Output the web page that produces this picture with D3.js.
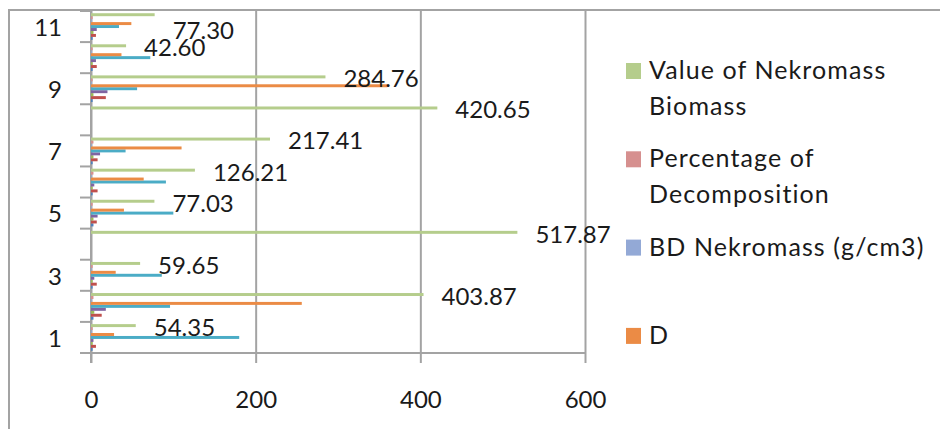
<!DOCTYPE html>
<html>
<head>
<meta charset="utf-8">
<script src="https://cdn.jsdelivr.net/npm/d3@7"></script>
<style>
  body { margin: 0; background: #fff; }
  text { font-family: Lato, "Open Sans", sans-serif; fill: #1a1a1a; }
</style>
</head>
<body>
<div id="chart"></div>
<script>
//categories, bottom to top
var categories = [1, 2, 3, 4, 5, 6, 7, 8, 9, 10, 11];

//series in plotting order (series 1 sits at the bottom of each group)
var seriesNames = ["Series 1", "Series 2", "Series 3", "Series 4", "Series 5",
    "D", "BD Nekromass (g/cm3)", "Percentage of Decomposition", "Value of Nekromass Biomass"];
var seriesColors = ["#4F81BD", "#C0504D", "#9BBB59", "#8064A2", "#4BACC6",
    "#EB8B45", "#93A9D6", "#D6908F", "#B5CD8C"];

var series1 = [2, 3, 2, 0, 3, 2, 2, 0, 2, 2, 2];
var series2 = [6, 13, 7, 0, 7, 8, 8, 0, 18, 7, 6];
var series3 = [2, 4, 2, 0, 3, 2, 3, 0, 3, 2, 3];
var series4 = [3, 18, 4, 0, 8, 4, 11, 0, 20, 6, 7];
var series5 = [180, 96, 86, 0, 100, 91, 42, 0, 56, 72, 34];
var dValues = [28, 256, 30, 0, 40, 64, 110, 0, 360, 37, 49];
var bdNekromass = [1, 1, 1, 0, 1, 1, 1, 0, 1, 1, 1];
var percentDecomp = [2, 3, 2, 0, 2, 3, 3, 0, 2, 2, 2];
var valueNekromass = [54.35, 403.87, 59.65, 517.87, 77.03, 126.21, 217.41, 420.65, 284.76, 42.60, 77.30];

var seriesValues = [series1, series2, series3, series4, series5, dValues, bdNekromass, percentDecomp, valueNekromass];

//axis ticks
var xTicks = [0, 200, 400, 600];

//the legend only has room for the last four series
var legendSeries = [8, 7, 6, 5];

var width = 940, height = 429;
var plot = {left: 91, right: 585, top: 11, bottom: 353};
var gridColor = "#A3A3A3";

var svg = d3.select("#chart").append("svg")
    .attr("width", width)
    .attr("height", height);

//chart border (left and top edges are in view)
svg.append("path")
    .attr("d", "M9," + (height + 5) + "V10H" + (width + 5))
    .attr("fill", "none")
    .attr("stroke", gridColor)
    .attr("stroke-width", 2);

var x = d3.scaleLinear().domain([0, 600]).range([plot.left, plot.right]);

var y = d3.scaleBand()
    .domain(categories.slice().reverse())
    .range([plot.top, plot.bottom]);

//inner band, Excel gap width 150%
var inner = d3.scaleBand()
    .domain(d3.range(seriesNames.length).reverse())
    .range([0, y.bandwidth()])
    .paddingOuter(0.75);

//vertical gridlines + x axis
svg.append("g")
    .attr("transform", "translate(0," + plot.bottom + ")")
    .call(d3.axisBottom(x).tickValues(xTicks).tickSizeInner(-(plot.bottom - plot.top)).tickSizeOuter(0).tickFormat(""))
    .call(function(g) {
        g.select(".domain").remove();
        g.selectAll(".tick line").attr("stroke", gridColor).attr("stroke-width", 2);
    });

svg.append("g")
    .attr("transform", "translate(0," + plot.bottom + ")")
    .call(d3.axisBottom(x).tickValues(xTicks).tickSize(10).tickPadding(28).tickFormat(d3.format("d")))
    .call(function(g) {
        g.select(".domain").attr("d", "M" + (plot.left - 11) + ",0H" + plot.right)
            .attr("stroke", gridColor).attr("stroke-width", 2);
        g.selectAll(".tick line").attr("stroke", gridColor).attr("stroke-width", 2);
        g.selectAll(".tick text")
            .style("font-family", "Lato, 'Open Sans', sans-serif")
            .style("font-size", "24px")
            .attr("fill", "#1a1a1a");
    });

//category axis: ticks between categories, labels on odd ones
var yAxis = svg.append("g");
yAxis.append("line")
    .attr("x1", plot.left).attr("x2", plot.left)
    .attr("y1", plot.top).attr("y2", plot.bottom + 10)
    .attr("stroke", gridColor).attr("stroke-width", 2);

yAxis.selectAll(".ytick")
    .data(categories)
    .enter().append("line")
    .attr("class", "ytick")
    .attr("x1", plot.left - 11).attr("x2", plot.left)
    .attr("y1", function(d) { return y(d); })
    .attr("y2", function(d) { return y(d); })
    .attr("stroke", gridColor).attr("stroke-width", 2);

yAxis.selectAll(".ylabel")
    .data(categories.filter(function(d) { return d % 2 === 1; }))
    .enter().append("text")
    .attr("class", "ylabel")
    .attr("x", 62)
    .attr("y", function(d) { return y(d) + y.bandwidth() / 2 + 1; })
    .attr("dy", "0.35em")
    .attr("text-anchor", "end")
    .style("font-size", "24px")
    .text(function(d) { return d; });

//bars
var groups = svg.append("g").selectAll(".series")
    .data(seriesValues)
    .enter().append("g")
    .attr("class", "series")
    .attr("fill", function(d, i) { return seriesColors[i]; });

groups.each(function(vals, si) {
    d3.select(this).selectAll("rect")
        .data(vals)
        .enter().append("rect")
        .attr("x", x(0))
        .attr("y", function(v, ci) { return y(categories[ci]) + inner(si); })
        .attr("height", inner.bandwidth())
        .attr("width", function(v) { return x(v) - x(0); });
});

//data labels for Value of Nekromass Biomass
var labelSeries = seriesValues.length - 1;
svg.append("g").selectAll("text")
    .data(valueNekromass)
    .enter().append("text")
    .attr("x", function(v) { return x(v) + 18; })
    .attr("y", function(v, ci) {
        var yc = y(categories[ci]) + inner(labelSeries) + inner.bandwidth() / 2 + 2;
        return Math.max(yc, plot.top + 20);
    })
    .attr("dy", "0.35em")
    .style("font-size", "24px")
    .text(function(v) { return v.toFixed(2); });

//legend
var legendLines = {
    8: ["Value of Nekromass", "Biomass"],
    7: ["Percentage of", "Decomposition"],
    6: ["BD Nekromass (g/cm3)"],
    5: ["D"]
};
var legend = svg.append("g").selectAll(".legend")
    .data(legendSeries)
    .enter().append("g")
    .attr("class", "legend")
    .attr("transform", function(d, i) { return "translate(626," + (79 + i * 88.3) + ")"; });

legend.append("rect")
    .attr("x", 0).attr("y", -16)
    .attr("width", 15).attr("height", 16)
    .attr("fill", function(d) { return seriesColors[d]; });

legend.append("text")
    .attr("x", 23)
    .style("font-size", "25px")
    .style("letter-spacing", "1.1px")
    .each(function(d) {
        var t = d3.select(this);
        legendLines[d].forEach(function(line, k) {
            t.append("tspan").attr("x", 23).attr("y", k * 36).text(line);
        });
    });
</script>
</body>
</html>
